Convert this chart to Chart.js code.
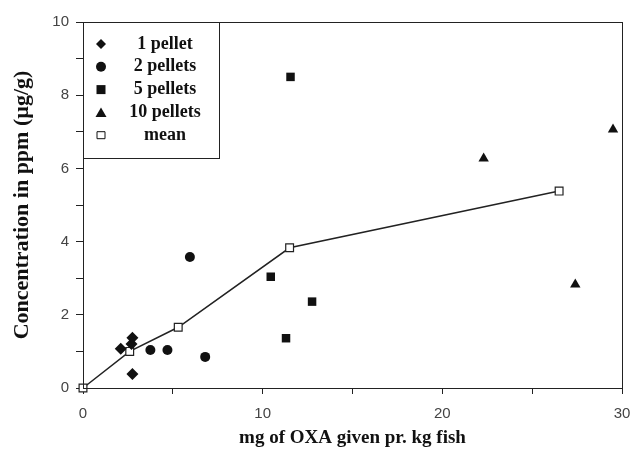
<!DOCTYPE html>
<html>
<head>
<meta charset="utf-8">
<script src="https://cdn.jsdelivr.net/npm/chart.js@4/dist/chart.umd.min.js"></script>
<style>
  body { margin: 0; background: #fff; }
  #wrap { width: 632px; height: 462px; }
</style>
</head>
<body>
<div id="wrap"><canvas id="myChart" width="632" height="462"></canvas></div>
<script>
// data
var onePellet = [[2.1, 1.07], [2.7, 1.2], [2.75, 1.37], [2.75, 0.38]];
var twoPellets = [[3.75, 1.04], [4.7, 1.04], [5.95, 3.58], [6.8, 0.85]];
var fivePellets = [[11.55, 8.5], [10.45, 3.04], [12.75, 2.36], [11.3, 1.36]];
var tenPellets = [[22.3, 6.27], [29.5, 7.06], [27.4, 2.83]];
var meanPts = [[0, 0], [2.6, 1.0], [5.3, 1.66], [11.5, 3.83], [26.5, 5.38]];
var seriesLabels = ["1 pellet", "2 pellets", "5 pellets", "10 pellets", "mean"];
var xTicks = [0, 10, 20, 30];
var yTicks = [0, 2, 4, 6, 8, 10];

function pts(arr) {
  return arr.map(function (p) { return { x: p[0], y: p[1] }; });
}

var serif = "'Liberation Serif', 'DejaVu Serif', serif";
var tickFont = "'Liberation Sans', 'DejaVu Sans', sans-serif";

// shapes for the legend box
function drawMarker(ctx, style, x, y) {
  ctx.save();
  ctx.fillStyle = "#111";
  ctx.strokeStyle = "#111";
  ctx.lineWidth = 1;
  ctx.beginPath();
  if (style === "rectRot") {
    ctx.moveTo(x, y - 5); ctx.lineTo(x + 5, y); ctx.lineTo(x, y + 5); ctx.lineTo(x - 5, y);
    ctx.closePath(); ctx.fill();
  } else if (style === "circle") {
    ctx.arc(x, y, 5, 0, Math.PI * 2); ctx.fill();
  } else if (style === "rect") {
    ctx.rect(x - 4.5, y - 4.5, 9, 9); ctx.fill();
  } else if (style === "triangle") {
    ctx.moveTo(x, y - 5); ctx.lineTo(x + 5.5, y + 4.5); ctx.lineTo(x - 5.5, y + 4.5);
    ctx.closePath(); ctx.fill();
  } else {
    ctx.fillStyle = "#fff";
    ctx.rect(x - 4, y - 3.5, 8, 7); ctx.fill(); ctx.stroke();
  }
  ctx.restore();
}

var boxLegend = {
  id: "boxLegend",
  afterDraw: function (chart) {
    var ctx = chart.ctx;
    var a = chart.chartArea;
    ctx.save();
    // frame round the plot
    ctx.strokeStyle = "#222";
    ctx.lineWidth = 1;
    ctx.strokeRect(a.left + 0.5, a.top + 0.5, a.right - a.left, a.bottom - a.top);
    // legend box
    var bx = a.left, by = a.top, bw = 136, bh = 136;
    ctx.fillStyle = "#fff";
    ctx.fillRect(bx + 1, by + 1, bw, bh);
    ctx.strokeRect(bx + 0.5, by + 0.5, bw, bh);
    var styles = ["rectRot", "circle", "rect", "triangle", "mean"];
    ctx.font = "bold 18px " + serif;
    ctx.textAlign = "center";
    ctx.textBaseline = "middle";
    for (var i = 0; i < seriesLabels.length; i++) {
      var yy = by + 22 + i * 22.8;
      drawMarker(ctx, styles[i], bx + 18, yy);
      ctx.fillStyle = "#111";
      ctx.fillText(seriesLabels[i], bx + 82, yy);
    }
    ctx.restore();
  }
};

var ctx = document.getElementById("myChart");
var chart = new Chart(ctx, {
  type: "scatter",
  data: {
    datasets: [
      { label: seriesLabels[0], data: pts(onePellet), pointStyle: "rectRot", pointRadius: 6,
        backgroundColor: "#111", borderColor: "#111", borderWidth: 0, clip: false },
      { label: seriesLabels[1], data: pts(twoPellets), pointStyle: "circle", pointRadius: 5,
        backgroundColor: "#111", borderColor: "#111", borderWidth: 0, clip: false },
      { label: seriesLabels[2], data: pts(fivePellets), pointStyle: "rect", pointRadius: 6,
        backgroundColor: "#111", borderColor: "#111", borderWidth: 0, clip: false },
      { label: seriesLabels[3], data: pts(tenPellets), pointStyle: "triangle", pointRadius: 6,
        backgroundColor: "#111", borderColor: "#111", borderWidth: 0, clip: false },
      { label: seriesLabels[4], data: pts(meanPts), pointStyle: "rect", pointRadius: 5.5,
        showLine: true, borderColor: "#222", borderWidth: 1.5, backgroundColor: "#fff",
        pointBorderColor: "#222", pointBorderWidth: 1.2, clip: false }
    ]
  },
  options: {
    responsive: false,
    animation: false,
    layout: { padding: { top: 22, right: 10, left: 0, bottom: 0 } },
    plugins: {
      legend: { display: false },
      tooltip: { enabled: false }
    },
    scales: {
      x: {
        type: "linear", min: 0, max: 30,
        afterFit: function (s) { s.height = 74; s.paddingLeft = 0; s.paddingRight = 0; },
        border: { display: true, color: "#222" },
        grid: { drawOnChartArea: false, tickLength: 6, color: "#222" },
        title: {
          display: true, text: "mg of OXA given pr. kg fish", color: "#111",
          font: { family: serif, size: 19, weight: "bold" },
          padding: { top: 0, bottom: 13 }
        },
        ticks: {
          stepSize: 5, padding: 11, color: "#444",
          font: { family: tickFont, size: 15 },
          maxRotation: 0,
          callback: function (v) { return xTicks.indexOf(v) >= 0 ? String(v) : ""; }
        }
      },
      y: {
        type: "linear", min: 0, max: 10,
        afterFit: function (s) { s.width = 83; },
        border: { display: true, color: "#222" },
        grid: { drawOnChartArea: false, tickLength: 7, color: "#222" },
        title: {
          display: true, text: "Concentration in ppm (µg/g)", color: "#111",
          font: { family: serif, size: 22, weight: "bold" },
          padding: { top: 9, bottom: 0 }
        },
        ticks: {
          stepSize: 1, padding: 7, color: "#444",
          font: { family: tickFont, size: 15 },
          callback: function (v) { return yTicks.indexOf(v) >= 0 ? String(v) : ""; }
        }
      }
    }
  },
  plugins: [boxLegend]
});
</script>
</body>
</html>
